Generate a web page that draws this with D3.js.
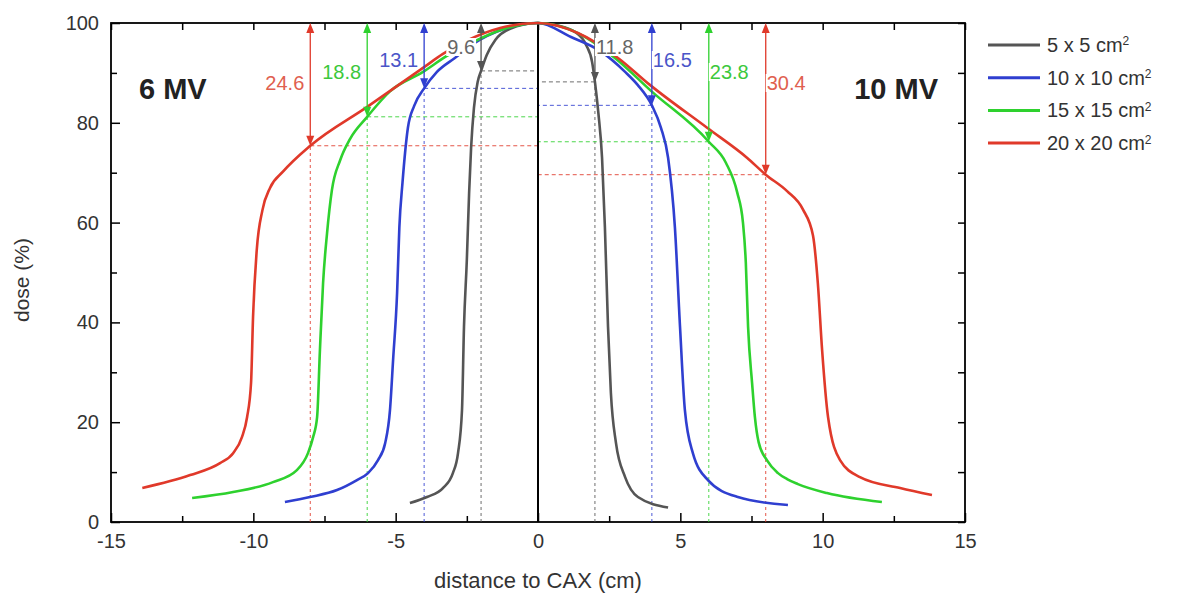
<!DOCTYPE html>
<html>
<head>
<meta charset="utf-8">
<script src="https://cdn.jsdelivr.net/npm/d3@7"></script>
<style>
  body { margin: 0; background: #fff; }
  text { font-family: "Liberation Sans", Arial, Helvetica, sans-serif; }
</style>
</head>
<body>
<div id="chart"></div>
<script>
// field sizes
var fields = ["5 x 5", "10 x 10", "15 x 15", "20 x 20"];
var colors = ["#555555", "#2f3fd0", "#2ed12e", "#e0392a"];
var labelColors = ["#666666", "#4a55c8", "#3cc83c", "#e0604f"];

// 6 MV profiles (left half), [distance cm, dose %]
var mv6_5 = [[-4.50,3.8],[-3.90,5.0],[-3.34,6.8],[-2.99,9.8],[-2.81,13.8],[-2.67,22.4],[-2.60,39.1],[-2.50,52.5],[-2.42,65.9],[-2.35,75],[-2.25,83],[-2.12,88.2],[-2.0,90.4],[-1.8,93.6],[-1.5,96.6],[-1.0,98.8],[0,100]];
var mv6_10 = [[-8.89,4.0],[-8.01,5.0],[-7.06,6.4],[-6.36,8.4],[-5.97,9.8],[-5.62,12.4],[-5.37,15.8],[-5.20,22.4],[-5.09,32.5],[-4.95,45.9],[-4.87,59.1],[-4.76,68],[-4.57,79.0],[-4.35,83.4],[-4.0,86.9],[-3.55,90.2],[-2.92,93.0],[-2.28,95.8],[-1.2,98.8],[0,100]];
var mv6_15 = [[-12.15,4.8],[-10.71,6.0],[-9.31,8.0],[-8.47,10.4],[-8.08,13.8],[-7.90,17.0],[-7.76,21.0],[-7.66,34.5],[-7.55,47.9],[-7.41,57.9],[-7.24,66.5],[-6.95,72.5],[-6.6,76.8],[-6.0,81.2],[-5.2,86.3],[-4.04,90.2],[-3.2,93.4],[-2.28,96.2],[-1.2,98.8],[0,100]];
var mv6_20 = [[-13.9,6.8],[-12.22,9.4],[-11.17,11.8],[-10.71,13.8],[-10.40,17.0],[-10.22,21.0],[-10.08,27.9],[-10.01,41.1],[-9.88,54.5],[-9.68,62.5],[-9.41,67],[-8.96,70.2],[-8.0,75.4],[-6.0,83.2],[-4.04,91.0],[-3.34,93.8],[-2.49,96.5],[-1.33,99],[0,100]];

// 10 MV profiles (right half)
var mv10_5 = [[0,100],[0.7,99.5],[1.3,98.2],[1.69,95.6],[1.9,92.2],[2.0,88.2],[2.12,82],[2.25,73],[2.35,59.1],[2.46,39.1],[2.56,25.9],[2.74,15.8],[3.06,9.0],[3.51,5.0],[4.57,2.9]];
var mv10_10 = [[0,100],[1.16,97.2],[2.18,94.4],[3.06,90.2],[3.5,87.6],[4.0,83.5],[4.32,79],[4.57,73],[4.81,59],[4.99,39],[5.16,22.4],[5.44,13.8],[5.97,8.4],[7.02,5.0],[8.78,3.4]];
var mv10_15 = [[0,100],[1.2,98.5],[2.7,93],[3.97,86.4],[6.0,76.2],[6.6,72],[7.0,66],[7.2,60],[7.3,52],[7.38,39.1],[7.52,27.9],[7.62,21],[7.75,16],[8.04,12.4],[8.43,9.8],[8.75,8.6],[9.13,7.6],[10.15,5.8],[12.08,4.0]];
var mv10_20 = [[0,100],[1.4,98],[2.81,93],[3.93,87.6],[5.94,79],[7.34,73],[8.0,69.6],[8.75,66.3],[9.31,62.6],[9.66,57.4],[9.83,47.9],[9.98,34.5],[10.19,21.0],[10.61,12.4],[11.31,9.0],[12.72,6.8],[13.84,5.4]];

// depth-of-dose markers
var mv6_markX = [-2, -4, -6, -8];
var mv6_markDose = [90.4, 86.9, 81.2, 75.4];
var mv6_labels = ["9.6", "13.1", "18.8", "24.6"];
var mv10_markX = [2, 4, 6, 8];
var mv10_markDose = [88.2, 83.5, 76.2, 69.6];
var mv10_labels = ["11.8", "16.5", "23.8", "30.4"];

var xMajor = [-15, -10, -5, 0, 5, 10, 15];
var xMinor = [-12.5, -7.5, -2.5, 2.5, 7.5, 12.5];
var yMajor = [0, 20, 40, 60, 80, 100];
var yMinor = [10, 30, 50, 70, 90];

var W = 1177, H = 596;
var m = { left: 111, top: 23, right: 212, bottom: 74 };
var pw = W - m.left - m.right, ph = H - m.top - m.bottom;

var svg = d3.select("#chart").append("svg")
    .attr("width", W).attr("height", H);
var g = svg.append("g").attr("transform", "translate(" + m.left + "," + m.top + ")");

var x = d3.scaleLinear().domain([-15, 15]).range([0, pw]);
var y = d3.scaleLinear().domain([0, 100]).range([ph, 0]);

var line = d3.line()
    .x(d => x(d[0])).y(d => y(d[1]))
    .curve(d3.curveMonotoneX);

// axes: ticks point inward on all four sides
function styleAxis(sel) {
  sel.select(".domain").remove();
  sel.selectAll(".tick line").attr("stroke", "#000").attr("stroke-width", 1.5);
  sel.selectAll(".tick text").attr("fill", "#333").style("font-size", "20px");
}
g.append("g").attr("transform", "translate(0," + ph + ")")
    .call(d3.axisBottom(x).tickValues(xMajor).tickSize(-9).tickPadding(12).tickFormat(d => String(d)))
    .call(styleAxis);
g.append("g").attr("transform", "translate(0," + ph + ")")
    .call(d3.axisBottom(x).tickValues(xMinor).tickSize(-6).tickFormat(""))
    .call(styleAxis);
g.append("g")
    .call(d3.axisTop(x).tickValues(xMajor.concat(xMinor)).tickSize(-7).tickFormat(""))
    .call(styleAxis);
g.append("g")
    .call(d3.axisLeft(y).tickValues(yMajor).tickSize(-9).tickPadding(12).tickFormat(d => String(d)))
    .call(styleAxis);
g.append("g")
    .call(d3.axisLeft(y).tickValues(yMinor).tickSize(-6).tickFormat(""))
    .call(styleAxis);
g.append("g").attr("transform", "translate(" + pw + ",0)")
    .call(d3.axisRight(y).tickValues(yMajor.concat(yMinor)).tickSize(-7).tickFormat(""))
    .call(styleAxis);

g.append("rect").attr("width", pw).attr("height", ph)
    .attr("fill", "none").attr("stroke", "#000").attr("stroke-width", 1.8);

// dashed guide lines
function guides(markX, markDose) {
  markX.forEach(function (mx, i) {
    g.append("line")
        .attr("x1", x(mx)).attr("x2", x(mx)).attr("y1", y(0)).attr("y2", y(markDose[i]))
        .attr("stroke", colors[i]).attr("stroke-width", 1).attr("stroke-dasharray", "3,3").attr("opacity", 0.85);
    g.append("line")
        .attr("x1", x(mx)).attr("x2", x(0)).attr("y1", y(markDose[i])).attr("y2", y(markDose[i]))
        .attr("stroke", colors[i]).attr("stroke-width", 1).attr("stroke-dasharray", "4,3").attr("opacity", 0.85);
  });
}
guides(mv6_markX, mv6_markDose);
guides(mv10_markX, mv10_markDose);

// center line
g.append("line").attr("x1", x(0)).attr("x2", x(0)).attr("y1", y(0)).attr("y2", y(100))
    .attr("stroke", "#000").attr("stroke-width", 2);

// profile curves
var profiles = [mv6_5.concat(mv10_5.slice(1)), mv6_10.concat(mv10_10.slice(1)),
                mv6_15.concat(mv10_15.slice(1)), mv6_20.concat(mv10_20.slice(1))];
g.selectAll(".profile")
    .data(profiles)
    .enter().append("path")
    .attr("class", "profile")
    .attr("d", line)
    .attr("fill", "none")
    .attr("stroke", (d, i) => colors[i])
    .attr("stroke-width", 2.6)
    .attr("stroke-linejoin", "round");

// double arrows from 100 % down to the marker point, with labels
var labelTop = [47, 60, 72, 83];
function arrows(markX, markDose, labels, side) {
  markX.forEach(function (mx, i) {
    var ax = x(mx), top = y(100), bot = y(markDose[i]);
    var c = colors[i];
    g.append("line").attr("x1", ax).attr("x2", ax).attr("y1", top + 6).attr("y2", bot - 6)
        .attr("stroke", c).attr("stroke-width", 1.3);
    g.append("path")
        .attr("d", "M" + ax + "," + top + "l-4,10h8z")
        .attr("fill", c);
    g.append("path")
        .attr("d", "M" + ax + "," + bot + "l-4,-10h8z")
        .attr("fill", c);
    var t = g.append("text")
        .attr("x", side < 0 ? ax - 6 : ax + 1)
        .attr("y", labelTop[i] - m.top)
        .attr("dy", "0.35em")
        .attr("text-anchor", side < 0 ? "end" : "start")
        .attr("fill", labelColors[i])
        .style("font-size", "20px")
        .text(labels[i]);
    var b = t.node().getBBox();
    g.insert("rect", function () { return t.node(); })
        .attr("x", b.x - 1).attr("y", b.y + 2).attr("width", b.width + 2).attr("height", b.height - 4)
        .attr("fill", "#fff");
  });
}
arrows(mv6_markX, mv6_markDose, mv6_labels, -1);
arrows(mv10_markX, mv10_markDose, mv10_labels, 1);

// energy labels
g.append("text").attr("x", 28).attr("y", 99 - m.top)
    .style("font-size", "29px").style("font-weight", "bold").attr("fill", "#222").text("6 MV");
g.append("text").attr("x", pw - 27).attr("y", 99 - m.top).attr("text-anchor", "end")
    .style("font-size", "29px").style("font-weight", "bold").attr("fill", "#222").text("10 MV");

// axis titles
svg.append("text").attr("x", m.left + pw / 2).attr("y", 588).attr("text-anchor", "middle")
    .attr("fill", "#333").style("font-size", "22px").text("distance to CAX (cm)");
svg.append("text").attr("transform", "translate(29,280) rotate(-90)")
    .attr("text-anchor", "middle").attr("fill", "#333").style("font-size", "21px").text("dose (%)");

// legend
var legend = svg.append("g").attr("transform", "translate(988,45)");
var rows = legend.selectAll(".row").data(fields).enter().append("g")
    .attr("transform", (d, i) => "translate(0," + i * 32.7 + ")");
rows.append("line").attr("x1", 0).attr("x2", 52).attr("stroke", (d, i) => colors[i]).attr("stroke-width", 3);
var lt = rows.append("text").attr("x", 59).attr("dy", "0.35em").attr("fill", "#333").style("font-size", "20px");
lt.append("tspan").text(d => d + " cm");
lt.append("tspan").attr("dy", "-0.55em").style("font-size", "12px").text("2");
</script>
</body>
</html>
